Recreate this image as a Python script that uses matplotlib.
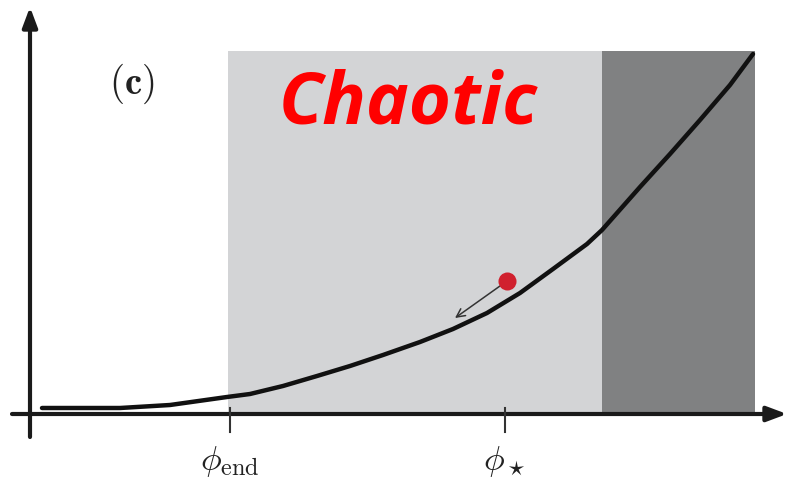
import numpy as np
import matplotlib.pyplot as plt

plt.rcParams['mathtext.fontset'] = 'cm'

# data in picture units (x to the right, y downward from top)
curve_x = [42, 120, 170, 227, 250, 283, 317, 350, 383, 420, 453, 487, 520,
           553, 587, 602, 640, 670, 700, 730, 753]
curve_y = [409, 409, 406, 398, 395, 387, 377, 367, 356, 343, 330, 314, 294,
           270, 245, 231, 188, 155, 121, 86, 55]

light_region = (228, 602)
dark_region = (602, 755)
region_top = 52
axis_y = 415
axis_x = 30

tick_pos = [230, 505]
tick_labels = [r'$\phi_{\rm end}$', r'$\phi_\star$']

dot_xy = (507, 282)
arrow_end = (455, 319)

fig = plt.figure(figsize=(7.92, 4.85), dpi=100, facecolor='white')
ax = fig.add_axes([0, 0, 1, 1])
ax.set_xlim(0, 792)
ax.set_ylim(485, 0)
ax.axis('off')

# shaded regions
ax.fill_between(light_region, region_top, axis_y, color='#d3d4d6', lw=0, zorder=1)
ax.fill_between(dark_region, region_top, axis_y, color='#808182', lw=0, zorder=1)

# curve
ax.plot(curve_x, curve_y, color='#111111', lw=3.2, solid_capstyle='round',
        solid_joinstyle='round', zorder=3)

# axes with arrows
ax.annotate('', xy=(787, axis_y), xytext=(12, axis_y),
            arrowprops=dict(arrowstyle='-|>,head_length=1.2,head_width=0.45',
                            lw=3, color='#1a1a1a', shrinkA=0, shrinkB=0), zorder=4)
ax.annotate('', xy=(axis_x, 8), xytext=(axis_x, 438),
            arrowprops=dict(arrowstyle='-|>,head_length=1.2,head_width=0.45',
                            lw=3, color='#1a1a1a', shrinkA=0, shrinkB=0), zorder=4)

# ticks and labels
for xp, lab in zip(tick_pos, tick_labels):
    ax.plot([xp, xp], [409, 433], color='#333333', lw=1.5, zorder=4)
    ax.text(xp, 462, lab, fontsize=25, ha='center', va='center', color='#222222')

# red dot and arrow
ax.annotate('', xy=arrow_end, xytext=dot_xy,
            arrowprops=dict(arrowstyle='->,head_length=0.6,head_width=0.3',
                            lw=1.1, color='#333333', shrinkA=6, shrinkB=0), zorder=5)
ax.plot(*dot_xy, 'o', ms=13, color='#d0202e', mec='none', zorder=6)

# labels
ax.text(132, 84, r'$\mathbf{(c)}$', fontsize=28, ha='center', va='center', color='#222222')
ax.text(408, 123, 'Chaotic', fontsize=52, fontweight='bold', fontstyle='italic',
        family='Open Sans', color='#ff0000', ha='center', va='baseline', zorder=7)

fig.savefig('out.png', dpi=100, facecolor='white')
